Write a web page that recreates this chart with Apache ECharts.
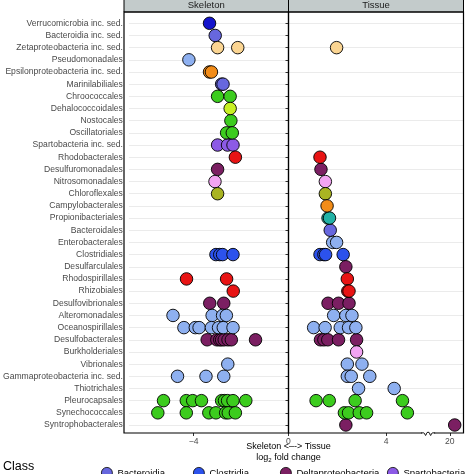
<!DOCTYPE html>
<html><head><meta charset="utf-8">
<script src="https://cdn.jsdelivr.net/npm/echarts@6/dist/echarts.min.js"></script>
<style>html,body{margin:0;padding:0;background:#fff}#c{width:474px;height:474px}</style>
</head><body><div id="c"></div>
<script>
// ---------------- data ----------------
const categories = ["Verrucomicrobia inc. sed.", "Bacteroidia inc. sed.", "Zetaproteobacteria inc. sed.", "Pseudomonadales", "Epsilonproteobacteria inc. sed.", "Marinilabiliales", "Chroococcales", "Dehalococcoidales", "Nostocales", "Oscillatoriales", "Spartobacteria inc. sed.", "Rhodobacterales", "Desulfuromonadales", "Nitrosomonadales", "Chloroflexales", "Campylobacterales", "Propionibacteriales", "Bacteroidales", "Enterobacterales", "Clostridiales", "Desulfarculales", "Rhodospirillales", "Rhizobiales", "Desulfovibrionales", "Alteromonadales", "Oceanospirillales", "Desulfobacterales", "Burkholderiales", "Vibrionales", "Gammaproteobacteria inc. sed.", "Thiotrichales", "Pleurocapsales", "Synechococcales", "Syntrophobacterales"];

const orderClass = ["Verrucomicrobiae", "Bacteroidia", "Zetaproteobacteria", "Gammaproteobacteria", "Epsilonproteobacteria", "Bacteroidia", "Cyanobacteria", "Dehalococcoidia", "Cyanobacteria", "Cyanobacteria", "Spartobacteria", "Alphaproteobacteria", "Deltaproteobacteria", "Betaproteobacteria", "Chloroflexia", "Epsilonproteobacteria", "Actinobacteria", "Bacteroidia", "Gammaproteobacteria", "Clostridia", "Deltaproteobacteria", "Alphaproteobacteria", "Alphaproteobacteria", "Deltaproteobacteria", "Gammaproteobacteria", "Gammaproteobacteria", "Deltaproteobacteria", "Betaproteobacteria", "Gammaproteobacteria", "Gammaproteobacteria", "Gammaproteobacteria", "Cyanobacteria", "Cyanobacteria", "Deltaproteobacteria"];

// log2 fold change values per order (Skeleton panel, negative)
const skeletonLFC = [
  [-3.33], [-3.09], [-2.99, -2.14], [-4.20], [-3.33, -3.25], [-2.82, -2.76],
  [-2.99, -2.46], [-2.46], [-2.43], [-2.61, -2.37], [-2.99, -2.57, -2.34],
  [-2.24], [-2.99], [-3.10], [-2.99], [], [], [], [],
  [-3.06, -2.90, -2.78, -2.34], [], [-4.30, -2.61], [-2.33], [-3.32, -2.73],
  [-4.87, -3.22, -2.78, -2.62],
  [-4.41, -3.93, -3.77, -3.25, -2.95, -2.75, -2.34],
  [-3.43, -3.02, -2.90, -2.82, -2.71, -2.55, -2.41, -1.39],
  [], [-2.56], [-4.68, -3.48, -2.73], [],
  [-5.27, -4.31, -4.04, -3.67, -2.82, -2.70, -2.57, -2.34, -1.80],
  [-5.51, -4.31, -3.36, -3.06, -2.65, -2.54, -2.24],
  []
];
// log2 fold change values per order (Tissue panel, positive)
const tissueLFC = [
  [], [], [1.97], [], [], [], [], [], [], [], [],
  [1.29], [1.33], [1.51], [1.51], [1.58], [1.62, 1.68], [1.71], [1.81, 1.97],
  [1.29, 1.45, 1.52, 2.24], [2.35], [2.41], [2.43, 2.48], [1.62, 2.05, 2.48],
  [1.85, 2.35, 2.60], [1.03, 1.50, 2.12, 2.46, 2.76],
  [1.31, 1.45, 1.61, 2.05, 2.79], [2.79], [2.41, 3.01], [2.41, 2.57, 3.33],
  [2.87, 4.33], [1.13, 1.67, 2.73, 4.67], [2.29, 2.46, 2.90, 3.20, 4.87],
  [2.35, 20.2]
];

const classNames = ["Bacteroidia", "Clostridia", "Deltaproteobacteria", "Spartobacteria", "Actinobacteria", "Alphaproteobacteria", "Betaproteobacteria", "Chloroflexia", "Cyanobacteria", "Dehalococcoidia", "Epsilonproteobacteria", "Gammaproteobacteria", "Verrucomicrobiae", "Zetaproteobacteria"];
const classColors = ["#6767de", "#2c52ec", "#7b1f62", "#8c5ae6", "#22b2a6", "#e81414", "#f2a4f2", "#a9b422", "#3ccc1e", "#c8f024", "#f28c18", "#8eb0f0", "#1414cc", "#fbd592"];
// first legend row (the rest of the legend lies below the visible area)
const legendVisible = ["Bacteroidia", "Clostridia", "Deltaproteobacteria", "Spartobacteria"];

const xTickLabels = [-4, 0, 4, 20];
const facetNames = ["Skeleton", "Tissue"];
const BREAK_AT = 20, BREAK_POS = 6.61, BREAK_MARK = 5.72;

// ---------------- layout ----------------
const L = { left: 124, mid: 288.5, right: 463.5, top: 23.3, bottom: 425, frameTop: 12, frameBottom: 433, stripTop: -2 };
const FONT = "Liberation Sans, Arial, Helvetica, sans-serif";
function disp(v) { return v > 10 ? BREAK_POS + (v - BREAK_AT) : v; }
function fmt(v) {
  if (Math.abs(v - BREAK_POS) < 1e-6) return String(BREAK_AT);
  return v < 0 ? "\u2212" + Math.abs(v) : String(v);
}

const series = [];
[skeletonLFC, tissueLFC].forEach((panel, p) => {
  classNames.forEach((cls, ci) => {
    const data = [];
    panel.forEach((vals, i) => {
      if (orderClass[i] !== cls) return;
      vals.forEach(v => data.push([disp(v), categories[i]]));
    });
    if (!data.length) return;
    series.push({
      name: cls, type: "scatter", xAxisIndex: p, yAxisIndex: p,
      symbol: "circle", symbolSize: 12.5, data,
      itemStyle: { color: classColors[ci], borderColor: "#000", borderWidth: 0.9, opacity: 1 },
      emphasis: { disabled: true }, animation: false
    });
  });
});

const yBase = {
  type: "category", data: categories, inverse: true, boundaryGap: false,
  axisLine: { show: false },
  splitLine: { show: true, lineStyle: { color: "#ebebeb", width: 1 } }
};

const legendLefts = [101, 193, 280, 387];
const legends = legendVisible.map((name, k) => ({
  orient: "horizontal", left: legendLefts[k], top: 467, padding: 0,
  itemWidth: 11, itemHeight: 11, icon: "circle", data: [name],
  textStyle: { fontFamily: FONT, fontSize: 9.5, color: "#000" },
  itemStyle: { borderColor: "#000", borderWidth: 0.8 }
}));

const graphics = [];
[[L.left, L.mid], [L.mid, L.right]].forEach(([a, b], k) => {
  graphics.push({ id: "strip" + k, type: "rect", shape: { x: a, y: L.stripTop, width: b - a, height: L.frameTop - L.stripTop },
    style: { fill: "#c3cbcb", stroke: "#000", lineWidth: 1 }, z: 10 });
  graphics.push({ id: "stripT" + k, type: "text", x: (a + b) / 2, y: 5.5,
    style: { text: facetNames[k], fill: "#1a1a1a", font: "9.5px " + FONT, textAlign: "center", textVerticalAlign: "middle" }, z: 11 });
  graphics.push({ id: "frame" + k, type: "rect", shape: { x: a, y: L.frameTop, width: b - a, height: L.frameBottom - L.frameTop },
    style: { fill: "none", stroke: "#000", lineWidth: 1.2 }, z: 10 });
});
graphics.push({ id: "xt1", type: "text", x: L.mid, y: 447,
  style: { text: "Skeleton <\u2013-> Tissue", fill: "#000", font: "9px " + FONT, textAlign: "center", textVerticalAlign: "middle" } });
graphics.push({ id: "xt2", type: "text", x: L.mid, y: 457.5,
  style: { text: "log{s|2} fold change", fill: "#000", font: "9px " + FONT, textAlign: "center", textVerticalAlign: "middle",
    rich: { s: { fontSize: 6, fontFamily: FONT, fill: "#000", verticalAlign: "bottom", padding: [5, 0, 0, 0] } } } });
graphics.push({ id: "cls", type: "text", x: 3, y: 467,
  style: { text: "Class", fill: "#000", font: "12.5px " + FONT, textAlign: "left", textVerticalAlign: "middle" } });

const xLabelStyle = { fontFamily: FONT, fontSize: 8.6, color: "#4d4d4d", margin: 4, formatter: fmt };
const xTickStyle = { show: true, length: 3, lineStyle: { color: "#333", width: 1 } };
const leftTicks = xTickLabels.filter(v => v <= 0).map(disp);
const rightTicks = xTickLabels.filter(v => v > 0).map(disp);

const option = {
  animation: false,
  backgroundColor: "#fff",
  grid: [
    { left: L.left, top: L.top, width: L.mid - L.left, height: L.bottom - L.top },
    { left: L.mid, top: L.top, width: L.right - L.mid, height: L.bottom - L.top }
  ],
  xAxis: [
    { gridIndex: 0, type: "value", min: -6.73, max: 0, offset: 8, axisLine: { show: false }, splitLine: { show: false },
      axisTick: Object.assign({ customValues: leftTicks }, xTickStyle),
      axisLabel: Object.assign({ customValues: leftTicks }, xLabelStyle) },
    { gridIndex: 1, type: "value", min: 0, max: 7.17, offset: 8, axisLine: { show: false }, splitLine: { show: false },
      axisTick: Object.assign({ customValues: rightTicks }, xTickStyle),
      axisLabel: Object.assign({ customValues: rightTicks }, xLabelStyle) }
  ],
  yAxis: [
    Object.assign({}, yBase, { gridIndex: 0,
      axisTick: { show: true, length: 3, interval: 0, lineStyle: { color: "#333" } },
      axisLabel: { interval: 0, fontFamily: FONT, fontSize: 8.6, color: "#4a4a4a", margin: 6 } }),
    Object.assign({}, yBase, { gridIndex: 1, axisTick: { show: false }, axisLabel: { show: false } })
  ],
  legend: legends,
  series,
  graphic: graphics
};

const chart = echarts.init(document.getElementById("c"), null, { renderer: "canvas" });
chart.setOption(option);

// axis-break marker on the Tissue axis
const bx = chart.convertToPixel({ xAxisIndex: 1 }, BREAK_MARK);
const by = L.frameBottom;
chart.setOption({ graphic: [
  { id: "brk0", type: "rect", shape: { x: bx - 6, y: by - 2, width: 12, height: 4 }, style: { fill: "#fff" }, z: 12 },
  { id: "brk1", type: "polyline", shape: { points: [[bx - 7, by], [bx - 4, by], [bx - 2.5, by + 2.5], [bx - 1, by - 0.5], [bx + 1, by - 0.5], [bx + 2.5, by + 2.5], [bx + 4, by], [bx + 7, by]], smooth: 0.3 },
    style: { stroke: "#000", lineWidth: 1, fill: "none" }, z: 13 }
] });
</script>
</body></html>
